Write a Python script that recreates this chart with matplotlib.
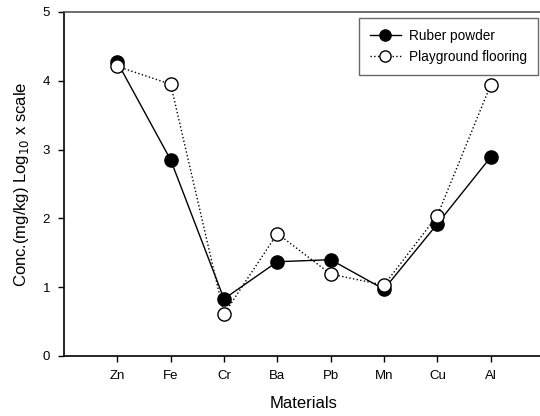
import matplotlib
matplotlib.use("Agg")
import matplotlib.pyplot as plt

plt.rcParams['font.family'] = ['Liberation Sans', 'DejaVu Sans']

materials = ["Zn", "Fe", "Cr", "Ba", "Pb", "Mn", "Cu", "Al"]
rubber_powder = [4.27, 2.85, 0.83, 1.37, 1.40, 0.97, 1.92, 2.89]
playground_flooring = [4.21, 3.95, 0.61, 1.78, 1.19, 1.03, 2.04, 3.94]

fig = plt.figure(figsize=(5.4, 4.16), dpi=100)
# right edge of the frame runs just past the picture, as in the original
ax = fig.add_axes([64 / 540, 1 - 356 / 416, 480 / 540, 344 / 416])

x = range(1, len(materials) + 1)
ax.plot(x, rubber_powder, '-', color='black', lw=1.0, marker='o', ms=9.5,
        mfc='black', mec='black', label='Ruber powder', zorder=3)
ax.plot(x, playground_flooring, ':', color='black', lw=1.0, marker='o', ms=9.5,
        mfc='white', mec='black', mew=1.0, label='Playground flooring', zorder=4)

ax.set_xlim(0, 9)
ax.set_ylim(0, 5)
ax.set_xticks(list(x))
ax.set_xticklabels(materials)
ax.set_yticks([0, 1, 2, 3, 4, 5])
ax.tick_params(direction='out', length=4, width=1, labelsize=9.5, pad=6)
for s in ax.spines.values():
    s.set_linewidth(1.2)
ax.spines['top'].set_color('#555555')

ax.set_xlabel('Materials', fontsize=12, labelpad=10)
ax.set_ylabel('Conc.(mg/kg) Log$_{10}$ x scale', fontsize=12, labelpad=8)

leg = ax.legend(loc='upper right', bbox_to_anchor=(538 / 540, 1 - 18 / 416),
                bbox_transform=fig.transFigure, borderaxespad=0,
                fontsize=9.8, frameon=True, fancybox=False,
                edgecolor='#444444', handlelength=2.3, handletextpad=0.6,
                borderpad=0.8, labelspacing=0.5, markerscale=0.85)
leg.get_frame().set_linewidth(1.0)

fig.savefig('out.png', dpi=100)
